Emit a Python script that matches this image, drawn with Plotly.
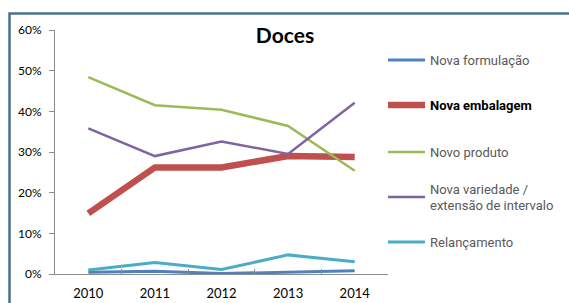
import plotly.graph_objects as go

years = ["2010", "2011", "2012", "2013", "2014"]
nova_formulacao = [0.4, 0.7, 0.1, 0.4, 0.8]
nova_embalagem = [14.9, 26.2, 26.2, 29.0, 28.8]
novo_produto = [48.4, 41.5, 40.4, 36.4, 25.4]
nova_variedade = [35.8, 29.0, 32.6, 29.5, 42.1]
relancamento = [1.0, 2.8, 1.1, 4.7, 3.0]

names = ["Nova formulação", "Nova embalagem", "Novo produto",
         "Nova variedade /<br>extensão de intervalo", "Relançamento"]
series = [nova_formulacao, nova_embalagem, novo_produto, nova_variedade, relancamento]
colors = ["#4F81BD", "#C0504D", "#9BBB59", "#8064A2", "#4BACC6"]
widths = [3, 6.5, 2.5, 2.5, 3]
legend_ids = ["legend", "legend2", "legend3", "legend4", "legend5"]
legend_px = [60, 105, 152, 197, 242]

W, H = 569, 303
L, R, T, B = 55, 181, 30, 29
pw, ph = W - L - R, H - T - B

fig = go.Figure()
for nm, s, c, w, lid in zip(names, series, colors, widths, legend_ids):
    fig.add_trace(go.Scatter(x=years, y=s, mode="lines", name=nm,
                             line=dict(color=c, width=w), legend=lid))

leg_x = (383 - L) / pw
layout_legends = {}
for i, (lid, py) in enumerate(zip(legend_ids, legend_px)):
    bold = (i == 1)
    layout_legends[lid] = dict(
        x=leg_x, y=(H - B - py) / ph, xanchor="left", yanchor="middle",
        bgcolor="rgba(0,0,0,0)", borderwidth=0, itemwidth=37,
        font=dict(family="Roboto", size=13,
                  color="#000000" if bold else "#595959",
                  weight="bold" if bold else "normal"),
    )

fig.update_layout(
    width=W, height=H,
    margin=dict(l=L, r=R, t=T, b=B, autoexpand=False),
    paper_bgcolor="white", plot_bgcolor="white",
    showlegend=True,
    title=dict(text="<b>Doces</b>", x=285 / W, xanchor="center",
               y=1 - 36 / H, yanchor="middle",
               font=dict(family="Lato", size=21, color="#000000")),
    xaxis=dict(type="category", showgrid=False, showline=True,
               linecolor="#8C8C8C", linewidth=1, ticks="inside",
               tickson="boundaries", ticklen=5, tickcolor="#8C8C8C",
               tickfont=dict(family="Lato", size=13, color="#000000"),
               ticklabelstandoff=7, range=[-0.5, 4.5], zeroline=False,
               fixedrange=True),
    yaxis=dict(range=[0, 60], dtick=10, ticksuffix="%", showgrid=False,
               showline=True, linecolor="#8C8C8C", linewidth=1,
               ticks="outside", ticklen=5, tickcolor="#8C8C8C",
               tickfont=dict(family="Lato", size=12, color="#000000"),
               ticklabelstandoff=5, zeroline=False, fixedrange=True),
    shapes=[dict(type="rect", xref="paper", yref="paper",
                 x0=(9.5 - L) / pw, x1=(W + 20 - L) / pw,
                 y0=-(B + 20) / ph, y1=(H - B - 13.5) / ph,
                 line=dict(color="#4E7091", width=2.5),
                 fillcolor="rgba(0,0,0,0)", layer="below")],
    **layout_legends,
)

fig.write_html(
    "out.html",
    config={"displayModeBar": False},
    post_script="document.documentElement.style.margin='0';"
                "document.body.style.margin='0';"
                "document.body.style.overflow='hidden';",
)
